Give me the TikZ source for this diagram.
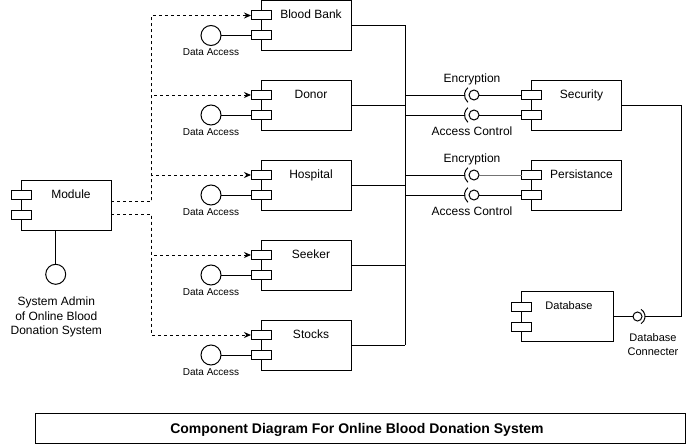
\documentclass[tikz,border=0pt]{standalone}
\usepackage{fontspec}
\setmainfont{Liberation Sans}
\usetikzlibrary{arrows.meta,calc}
\newcommand\compnode[6]{%
  \node[box, minimum width=#4pt] (#1) at (#2,#3) {};
  \node[port] (#1-a) at ($(#1.north west)+(0,15)$) {};
  \node[port] (#1-b) at ($(#1.north west)+(0,35)$) {};
  \node[lbl] (#1-t) at ($(#1.north west)+(#5,18.5)$) {#6};
}
\newcommand\dataacc[1]{%
  \node[ball] (#1-i) at ($(#1.north west)+(-50,35)$) {};
  \node[small] (#1-il) at ($(#1.north west)+(-50,55.5)$) {Data Access};
  \draw (#1-i) -- (#1-b);
}
\newcommand\socketif[4]{% name, port, label, line colour
  \node[ball, minimum size=10pt] (#1) at ($(#2)+(-57.5,0)$) {};
  \draw[#4] (#1) -- (#2);
  \draw ($(#1.center)+(130:9.5)$) arc[start angle=130, end angle=230, radius=9.5];
  \coordinate (#1-l) at ($(#1.center)+(-9.5,0)$);
  \draw (#1-l) -- (#1-l -| busS);
}
\begin{document}
\begin{tikzpicture}[x=1pt,y=-1pt, line width=1pt,
  box/.style={draw, minimum height=50pt, inner sep=0pt, outer sep=0pt, anchor=north west},
  port/.style={draw, fill=white, minimum width=20pt, minimum height=9pt, inner sep=0pt, outer sep=0pt},
  lbl/.style={font=\fontsize{12}{14.4}\selectfont, anchor=base, inner sep=0pt},
  small/.style={font=\fontsize{10}{12}\selectfont, anchor=base, inner sep=0pt},
  ball/.style={draw, circle, minimum size=20pt, inner sep=0pt, outer sep=0pt},
  dashline/.style={dash pattern=on 3pt off 3pt},
  arr/.style={-{Stealth[length=7pt,width=6pt]}},
]
\useasboundingbox (0,0) rectangle (695,444);

% components
\compnode{bb}{261}{0.5}{90}{50}{Blood Bank}
\compnode{donor}{261}{80}{90}{50}{Donor}
\compnode{hosp}{261}{160}{90}{50}{Hospital}
\compnode{seek}{261}{240}{90}{50}{Seeker}
\compnode{stock}{261}{320}{90}{50}{Stocks}
\compnode{mod}{21}{180}{90}{50}{Module}
\compnode{sec}{531.5}{80}{90}{50}{Security}
\compnode{per}{531.5}{160}{90}{50}{Persistance}
\node[box, minimum width=92pt] (db) at (521,291.5) {};
\node[port] (db-a) at ($(db.north west)+(0,15)$) {};
\node[port] (db-b) at ($(db.north west)+(0,35)$) {};
\node[anchor=base, inner sep=0pt, font=\fontsize{11}{13.2}\selectfont] (db-t) at ($(db.north west)+(48,17.5)$) {Database};

% data access interfaces
\dataacc{bb}
\dataacc{donor}
\dataacc{hosp}
\dataacc{seek}
\dataacc{stock}

% system admin
\node[ball] (adm) at (55.7,274.3) {};
\draw (adm |- mod.south) -- (adm);
\node[lbl, anchor=north, align=center] (admt) at (56.3,296.5) {System Admin\\of Online Blood\\Donation System};

% dashed dependencies
\coordinate (mu) at ($(mod.north east)+(0,21.7)$);
\coordinate (mux) at ($(mu)+(40.7,0)$);
\coordinate (ml) at ($(mod.north east)+(0,34.3)$);
\coordinate (mlx) at ($(ml)+(40.7,0)$);
\draw[dashline, arr] (mu) -- (mux) |- (bb-a);
\draw[dashline, arr] (mu) -- (mux) |- (donor-a);
\draw[dashline, arr] (mu) -- (mux) |- (hosp-a);
\draw[dashline, arr] (ml) -- (mlx) |- (seek-a);
\draw[dashline, arr] (ml) -- (mlx) |- (stock-a);

% bus on the right of components
\coordinate (busS) at ($(stock.east)+(54,0)$);
\draw (bb.east) -| (busS);
\draw (stock.east) -- (busS);
\draw (donor.east) -- (donor.east -| busS);
\draw (hosp.east) -- (hosp.east -| busS);
\draw (seek.east) -- (seek.east -| busS);

% required/provided interfaces
\socketif{encS}{sec-a}{Encryption}{}
\socketif{accS}{sec-b}{Access Control}{}
\socketif{encP}{per-a}{Encryption}{black!55}
\socketif{accP}{per-b}{Access Control}{}
\node[lbl] (encSt) at ($(encS.center)+(-2,-12.5)$) {Encryption};
\node[lbl] (accSt) at ($(accS.center)+(-2,20.3)$) {Access Control};
\node[lbl] (encPt) at ($(encP.center)+(-2,-12.5)$) {Encryption};
\node[lbl] (accPt) at ($(accP.center)+(-2,20.3)$) {Access Control};

% database connecter
\node[ball, minimum size=9pt] (dbc) at ($(db.east)+(24.5,0)$) {};
\draw (db) -- (dbc);
\draw ($(dbc.center)+(-1,0)+(-58:8.5)$) arc[start angle=-58, end angle=58, radius=8.5];
\coordinate (dbcr) at ($(dbc.center)+(7.5,0)$);
\draw (sec.east) -| ($(dbcr)+(36.7,0)$) -- (dbcr);
\node[anchor=base, inner sep=0pt, align=center, font=\fontsize{11}{13.3}\selectfont] (dbct) at ($(dbc.center)+(15.5,38.5)$) {Database\\Connecter};

% title
\node[draw, minimum width=650pt, minimum height=30pt, inner sep=0pt, anchor=north west] (title) at (34.5,413) {};
\node[anchor=base, inner sep=0pt, font=\fontsize{14}{16}\selectfont\bfseries] (titlet) at (357,433) {Component Diagram For Online Blood Donation System};
\end{tikzpicture}
\end{document}
